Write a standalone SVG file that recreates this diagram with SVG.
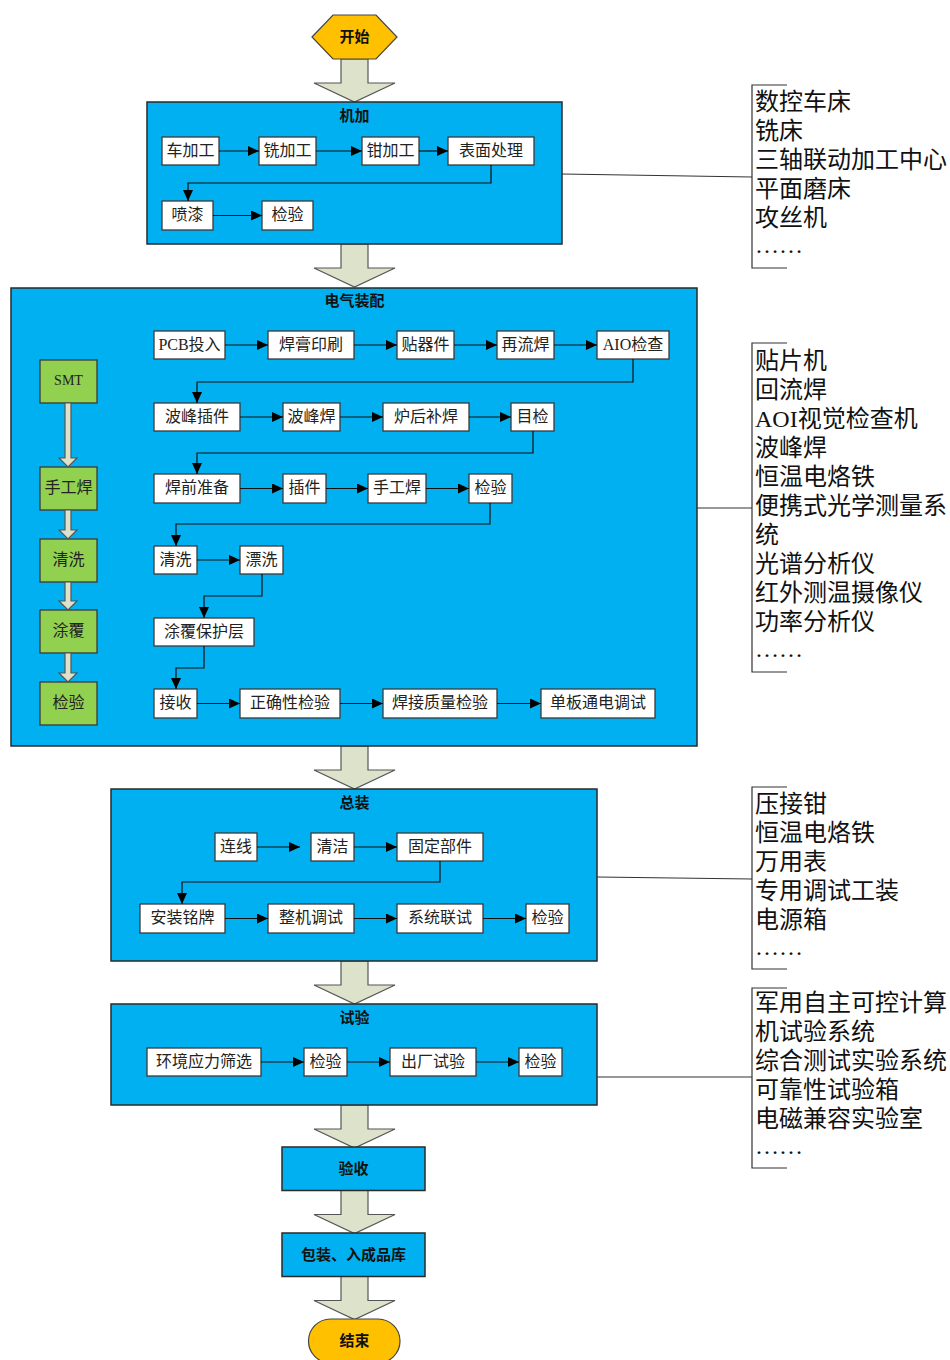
<svg xmlns="http://www.w3.org/2000/svg" xmlns:xlink="http://www.w3.org/1999/xlink" width="950" height="1360" viewBox="0 0 950 1360">
<style>
.blue{fill:#00B0F0;stroke:#2a2a2a;stroke-width:1.5}
.box{fill:#fff;stroke:#3a3a3a;stroke-width:1.3}
.green{fill:#92D050;stroke:#3a3a3a;stroke-width:1.3}
.t{font-family:"Liberation Serif","Noto Sans CJK SC",serif;font-size:16px;fill:#222;text-anchor:middle;dominant-baseline:central}
.title{font-family:"Noto Sans CJK SC",sans-serif;font-size:15px;font-weight:bold;fill:#111;text-anchor:middle;dominant-baseline:central}
.list{font-family:"Liberation Serif","Noto Sans CJK SC",serif;font-size:24px;fill:#111;dominant-baseline:central}
.con{fill:none;stroke:#111;stroke-width:1.2}
.brk{fill:none;stroke:#333;stroke-width:1.2}
.big{fill:#DDE2CB;stroke:#555;stroke-width:1.2}
</style>
<defs>
<marker id="ah" markerUnits="userSpaceOnUse" markerWidth="12" markerHeight="10" refX="11" refY="5" orient="auto">
<path d="M0,0 L11,5 L0,10 z" fill="#000"/>
</marker>
<path id="bigArrow" d="M-13.5,0 H13.5 V24 H40.5 L0,43 L-40.5,24 H-13.5 Z"/>
</defs>

<!-- big block arrows -->
<g id="block-arrows" class="big">
<use xlink:href="#bigArrow" href="#bigArrow" transform="translate(354.5,59)"/>
<use xlink:href="#bigArrow" href="#bigArrow" transform="translate(354.5,244)"/>
<use xlink:href="#bigArrow" href="#bigArrow" transform="translate(354.5,746)"/>
<use xlink:href="#bigArrow" href="#bigArrow" transform="translate(354.5,961)"/>
<use xlink:href="#bigArrow" href="#bigArrow" transform="translate(354.5,1105)"/>
<use xlink:href="#bigArrow" href="#bigArrow" transform="translate(354.5,1190.5)"/>
<use xlink:href="#bigArrow" href="#bigArrow" transform="translate(354.5,1276.5)"/>
</g>

<g id="start">
<polygon points="312,37 333,15 376,15 397,37 376,59 333,59" fill="#FFC000" stroke="#444" stroke-width="1.2"/>
<text class="title" x="354.5" y="35">开始</text>
</g>

<!-- 机加 -->
<g id="jijia">
<rect class="blue" x="147" y="102" width="415" height="142"/>
<text class="title" x="354.5" y="114.5">机加</text>
</g>
<g id="n-chejiagong"><rect class="box" x="162" y="137" width="57" height="28"/><text class="t" x="190.5" y="150">车加工</text></g>
<g id="n-xijiagong"><rect class="box" x="259" y="137" width="57" height="28"/><text class="t" x="287.5" y="150">铣加工</text></g>
<g id="n-qianjiagong"><rect class="box" x="362" y="137" width="57" height="28"/><text class="t" x="390.5" y="150">钳加工</text></g>
<g id="n-biaomian"><rect class="box" x="448" y="137" width="86" height="28"/><text class="t" x="491" y="150">表面处理</text></g>
<g id="n-penqi"><rect class="box" x="162" y="201" width="51" height="29"/><text class="t" x="187.5" y="214.5">喷漆</text></g>
<g id="n-jianyan1"><rect class="box" x="262" y="201" width="51" height="29"/><text class="t" x="287.5" y="214.5">检验</text></g>

<!-- 电气装配 -->
<g id="dianqi">
<rect class="blue" x="11" y="288" width="686" height="458"/>
<text class="title" x="354.5" y="299">电气装配</text>
</g>
<g id="n-pcb"><rect class="box" x="154" y="331" width="71" height="28"/><text class="t" x="189.5" y="344">PCB投入</text></g>
<g id="n-hanggao"><rect class="box" x="268" y="331" width="86" height="28"/><text class="t" x="311" y="344">焊膏印刷</text></g>
<g id="n-tieqijian"><rect class="box" x="397" y="331" width="57" height="28"/><text class="t" x="425.5" y="344">贴器件</text></g>
<g id="n-zailiuhan"><rect class="box" x="497" y="331" width="57" height="28"/><text class="t" x="525.5" y="344">再流焊</text></g>
<g id="n-aio"><rect class="box" x="597" y="331" width="72" height="28"/><text class="t" x="633" y="344">AIO检查</text></g>
<g id="n-bofengchajian"><rect class="box" x="154" y="403" width="86" height="28"/><text class="t" x="197" y="416">波峰插件</text></g>
<g id="n-bofenghan"><rect class="box" x="283" y="403" width="57" height="28"/><text class="t" x="311.5" y="416">波峰焊</text></g>
<g id="n-luhou"><rect class="box" x="383" y="403" width="86" height="28"/><text class="t" x="426" y="416">炉后补焊</text></g>
<g id="n-mujian"><rect class="box" x="511" y="403" width="43" height="28"/><text class="t" x="532.5" y="416">目检</text></g>
<g id="n-hanqian"><rect class="box" x="154" y="474" width="86" height="29"/><text class="t" x="197" y="487.5">焊前准备</text></g>
<g id="n-chajian"><rect class="box" x="283" y="474" width="43" height="29"/><text class="t" x="304.5" y="487.5">插件</text></g>
<g id="n-shougonghan"><rect class="box" x="368" y="474" width="58" height="29"/><text class="t" x="397" y="487.5">手工焊</text></g>
<g id="n-jianyan2"><rect class="box" x="469" y="474" width="43" height="29"/><text class="t" x="490.5" y="487.5">检验</text></g>
<g id="n-qingxi"><rect class="box" x="154" y="546" width="43" height="28"/><text class="t" x="175.5" y="559">清洗</text></g>
<g id="n-piaoxi"><rect class="box" x="240" y="546" width="43" height="28"/><text class="t" x="261.5" y="559">漂洗</text></g>
<g id="n-tufu"><rect class="box" x="154" y="618" width="100" height="28"/><text class="t" x="204" y="631">涂覆保护层</text></g>
<g id="n-jieshou"><rect class="box" x="154" y="689" width="43" height="29"/><text class="t" x="175.5" y="702.5">接收</text></g>
<g id="n-zhengque"><rect class="box" x="240" y="689" width="100" height="29"/><text class="t" x="290" y="702.5">正确性检验</text></g>
<g id="n-hanjie"><rect class="box" x="383" y="689" width="114" height="29"/><text class="t" x="440" y="702.5">焊接质量检验</text></g>
<g id="n-danban"><rect class="box" x="541" y="689" width="114" height="29"/><text class="t" x="598" y="702.5">单板通电调试</text></g>

<g id="g-smt"><rect class="green" x="40" y="360" width="57" height="43"/><text class="t" x="68.5" y="380.5" style="font-size:14px">SMT</text></g>
<g id="g-shougong"><rect class="green" x="40" y="467" width="57" height="43"/><text class="t" x="68.5" y="487.5">手工焊</text></g>
<g id="g-qingxi"><rect class="green" x="40" y="539" width="57" height="43"/><text class="t" x="68.5" y="559.5">清洗</text></g>
<g id="g-tufu"><rect class="green" x="40" y="610" width="57" height="43"/><text class="t" x="68.5" y="630.5">涂覆</text></g>
<g id="g-jianyan"><rect class="green" x="40" y="682" width="57" height="43"/><text class="t" x="68.5" y="702.5">检验</text></g>

<!-- 总装 -->
<g id="zongzhuang">
<rect class="blue" x="111" y="789" width="486" height="172"/>
<text class="title" x="354.5" y="801">总装</text>
</g>
<g id="n-lianxian"><rect class="box" x="215" y="833" width="42" height="28"/><text class="t" x="236" y="846">连线</text></g>
<g id="n-qingjie"><rect class="box" x="311" y="833" width="43" height="28"/><text class="t" x="332.5" y="846">清洁</text></g>
<g id="n-guding"><rect class="box" x="397" y="833" width="86" height="28"/><text class="t" x="440" y="846">固定部件</text></g>
<g id="n-anzhuang"><rect class="box" x="140" y="904" width="85" height="29"/><text class="t" x="182.5" y="917.5">安装铭牌</text></g>
<g id="n-zhengji"><rect class="box" x="268" y="904" width="86" height="29"/><text class="t" x="311" y="917.5">整机调试</text></g>
<g id="n-xitong"><rect class="box" x="397" y="904" width="86" height="29"/><text class="t" x="440" y="917.5">系统联试</text></g>
<g id="n-jianyan3"><rect class="box" x="526" y="904" width="43" height="29"/><text class="t" x="547.5" y="917.5">检验</text></g>

<!-- 试验 -->
<g id="shiyan">
<rect class="blue" x="111" y="1004" width="486" height="101"/>
<text class="title" x="354.5" y="1016">试验</text>
</g>
<g id="n-huanjing"><rect class="box" x="147" y="1048" width="114" height="28"/><text class="t" x="204" y="1061">环境应力筛选</text></g>
<g id="n-jianyan4"><rect class="box" x="304" y="1048" width="43" height="28"/><text class="t" x="325.5" y="1061">检验</text></g>
<g id="n-chuchang"><rect class="box" x="390" y="1048" width="86" height="28"/><text class="t" x="433" y="1061">出厂试验</text></g>
<g id="n-jianyan5"><rect class="box" x="519" y="1048" width="43" height="28"/><text class="t" x="540.5" y="1061">检验</text></g>

<g id="yanshou"><rect class="blue" x="282" y="1147" width="143" height="43.5"/><text class="title" x="353.5" y="1167">验收</text></g>
<g id="baozhuang"><rect class="blue" x="282" y="1233" width="143" height="43.5"/><text class="title" x="353.5" y="1253">包装、入成品库</text></g>
<g id="end"><rect x="308.5" y="1319" width="91.5" height="44" rx="22" ry="22" fill="#FFC000" stroke="#444" stroke-width="1.2"/><text class="title" x="354.5" y="1339">结束</text></g>

<!-- connectors -->
<g id="connectors" class="con">
<line x1="219" y1="151" x2="259" y2="151" marker-end="url(#ah)"/>
<line x1="316" y1="151" x2="362" y2="151" marker-end="url(#ah)"/>
<line x1="419" y1="151" x2="448" y2="151" marker-end="url(#ah)"/>
<polyline points="491,165 491,183 188,183 188,201" marker-end="url(#ah)"/>
<line x1="213" y1="215.5" x2="262" y2="215.5" marker-end="url(#ah)"/>

<line x1="225" y1="345" x2="268" y2="345" marker-end="url(#ah)"/>
<line x1="354" y1="345" x2="397" y2="345" marker-end="url(#ah)"/>
<line x1="454" y1="345" x2="497" y2="345" marker-end="url(#ah)"/>
<line x1="554" y1="345" x2="597" y2="345" marker-end="url(#ah)"/>
<polyline points="633,359 633,382 197,382 197,403" marker-end="url(#ah)"/>
<line x1="240" y1="417" x2="283" y2="417" marker-end="url(#ah)"/>
<line x1="340" y1="417" x2="383" y2="417" marker-end="url(#ah)"/>
<line x1="469" y1="417" x2="511" y2="417" marker-end="url(#ah)"/>
<polyline points="533,431 533,453 197,453 197,474" marker-end="url(#ah)"/>
<line x1="240" y1="488.5" x2="283" y2="488.5" marker-end="url(#ah)"/>
<line x1="326" y1="488.5" x2="368" y2="488.5" marker-end="url(#ah)"/>
<line x1="426" y1="488.5" x2="469" y2="488.5" marker-end="url(#ah)"/>
<polyline points="490,503 490,524 176,524 176,546" marker-end="url(#ah)"/>
<line x1="197" y1="560" x2="240" y2="560" marker-end="url(#ah)"/>
<polyline points="262,574 262,596 204,596 204,618" marker-end="url(#ah)"/>
<polyline points="204,646 204,668 176,668 176,689" marker-end="url(#ah)"/>
<line x1="197" y1="703.5" x2="240" y2="703.5" marker-end="url(#ah)"/>
<line x1="340" y1="703.5" x2="383" y2="703.5" marker-end="url(#ah)"/>
<line x1="497" y1="703.5" x2="541" y2="703.5" marker-end="url(#ah)"/>

<line x1="257" y1="847" x2="300" y2="847" marker-end="url(#ah)"/>
<line x1="354" y1="847" x2="397" y2="847" marker-end="url(#ah)"/>
<polyline points="440,861 440,882 182,882 182,904" marker-end="url(#ah)"/>
<line x1="225" y1="918.5" x2="268" y2="918.5" marker-end="url(#ah)"/>
<line x1="354" y1="918.5" x2="397" y2="918.5" marker-end="url(#ah)"/>
<line x1="483" y1="918.5" x2="526" y2="918.5" marker-end="url(#ah)"/>

<line x1="261" y1="1062" x2="304" y2="1062" marker-end="url(#ah)"/>
<line x1="347" y1="1062" x2="390" y2="1062" marker-end="url(#ah)"/>
<line x1="476" y1="1062" x2="519" y2="1062" marker-end="url(#ah)"/>
</g>

<!-- small green block arrows -->
<g id="green-arrows" class="big">
<path d="M65,403 H71 V458 H77 L68,467 L59,458 H65 Z"/>
<path d="M65,510 H71 V530 H77 L68,539 L59,530 H65 Z"/>
<path d="M65,582 H71 V601 H77 L68,610 L59,601 H65 Z"/>
<path d="M65,653 H71 V673 H77 L68,682 L59,673 H65 Z"/>
</g>

<!-- equipment lists -->
<g id="list-links" class="brk">
<line x1="562" y1="174" x2="752" y2="177"/>
<path d="M787,85 H752 V268 H787"/>
<line x1="697" y1="508" x2="752" y2="508"/>
<path d="M787,343 H752 V672 H787"/>
<line x1="597" y1="877" x2="752" y2="879"/>
<path d="M787,787 H752 V969 H787"/>
<line x1="597" y1="1077" x2="752" y2="1077"/>
<path d="M787,988 H752 V1168 H787"/>
</g>
<g id="list-jijia" class="list">
<text x="755" y="102">数控车床</text>
<text x="755" y="131">铣床</text>
<text x="755" y="160">三轴联动加工中心</text>
<text x="755" y="189">平面磨床</text>
<text x="755" y="218">攻丝机</text>
<text x="755" y="245">……</text>
</g>
<g id="list-dianqi" class="list">
<text x="755" y="361">贴片机</text>
<text x="755" y="390">回流焊</text>
<text x="755" y="419">AOI视觉检查机</text>
<text x="755" y="448">波峰焊</text>
<text x="755" y="477">恒温电烙铁</text>
<text x="755" y="506">便携式光学测量系</text>
<text x="755" y="535">统</text>
<text x="755" y="564">光谱分析仪</text>
<text x="755" y="593">红外测温摄像仪</text>
<text x="755" y="622">功率分析仪</text>
<text x="755" y="649">……</text>
</g>
<g id="list-zongzhuang" class="list">
<text x="755" y="804">压接钳</text>
<text x="755" y="833">恒温电烙铁</text>
<text x="755" y="862">万用表</text>
<text x="755" y="891">专用调试工装</text>
<text x="755" y="920">电源箱</text>
<text x="755" y="947">……</text>
</g>
<g id="list-shiyan" class="list">
<text x="755" y="1003">军用自主可控计算</text>
<text x="755" y="1032">机试验系统</text>
<text x="755" y="1061">综合测试实验系统</text>
<text x="755" y="1090">可靠性试验箱</text>
<text x="755" y="1119">电磁兼容实验室</text>
<text x="755" y="1146">……</text>
</g>
</svg>
